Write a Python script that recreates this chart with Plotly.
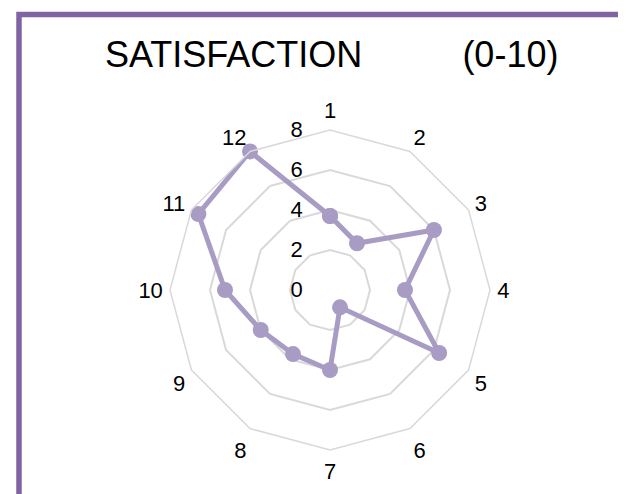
import plotly.graph_objects as go

categories = ["1", "2", "3", "4", "5", "6", "7", "8", "9", "10", "11", "12"]
satisfaction = [3.7, 2.7, 6.0, 3.75, 6.3, 1.0, 4.0, 3.7, 4.0, 5.25, 7.6, 8.0]
radial_ticks = [0, 2, 4, 6, 8]
title_left = "SATISFACTION"
title_right = "(0-10)"

W, H = 626, 494
OFF = 8  # page body margin offset
cx, cy, R = 330 - OFF, 290 - OFF, 160

line_color = "#a89bc4"
grid_color = "#d9d9d9"
border_color = "#8064a2"
font_family = "Liberation Sans, Arial, sans-serif"

fig = go.Figure()
fig.add_trace(go.Scatterpolar(
    r=satisfaction + satisfaction[:1],
    theta=categories + categories[:1],
    mode="lines+markers",
    line=dict(color=line_color, width=5),
    marker=dict(color=line_color, size=16),
    showlegend=False,
))

fig.update_layout(
    width=W, height=H,
    margin=dict(l=0, r=0, t=0, b=0),
    paper_bgcolor="white",
    plot_bgcolor="white",
    font=dict(family=font_family, color="black", size=22),
    polar=dict(
        domain=dict(x=[(cx - R) / W, (cx + R) / W],
                    y=[(H - cy - R) / H, (H - cy + R) / H]),
        bgcolor="white",
        gridshape="linear",
        angularaxis=dict(
            type="category",
            categoryarray=categories,
            rotation=90,
            direction="clockwise",
            showgrid=False,
            showline=True,
            linecolor=grid_color,
            linewidth=1.5,
            ticks="outside",
            ticklen=2,
            tickcolor="rgba(0,0,0,0)",
            tickfont=dict(size=22, family=font_family, color="black"),
        ),
        radialaxis=dict(
            range=[0, 8],
            tickvals=radial_ticks,
            ticktext=[str(v) for v in radial_ticks],
            angle=90,
            tickangle=90,
            side="counterclockwise",
            showline=False,
            showgrid=True,
            gridcolor=grid_color,
            gridwidth=1.5,
            ticks="outside",
            ticklen=19,
            tickcolor="rgba(0,0,0,0)",
            tickfont=dict(size=22, family=font_family, color="black"),
        ),
    ),
    annotations=[dict(
        text=title_left + "\u00a0" * 10 + title_right,
        xref="paper", yref="paper",
        x=(103 - OFF) / W, y=1 - (55 - OFF) / H,
        xanchor="left", yanchor="middle",
        showarrow=False,
        font=dict(size=36, family=font_family, color="black"),
    )],
    shapes=[dict(
        type="rect", xref="paper", yref="paper",
        x0=(19 - OFF) / W, y0=1 - (14.5 - OFF) / H, x1=1.2, y1=-0.2,
        line=dict(color=border_color, width=5.5),
        fillcolor="rgba(0,0,0,0)",
        layer="above",
    )],
)

fig.write_html("out.html")
